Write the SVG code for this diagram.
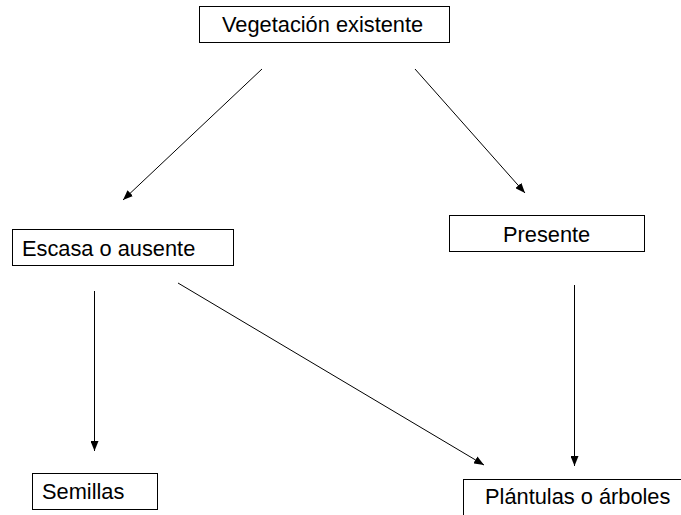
<svg xmlns="http://www.w3.org/2000/svg" width="681" height="515" viewBox="0 0 681 515">
<style>
.box{fill:#fff;stroke:#000;stroke-width:1}
.lbl{font-family:"Liberation Sans",Arial,sans-serif;font-size:21.8px;fill:#000}
.con{stroke:#000;stroke-width:1;fill:none;marker-end:url(#ah)}
</style>
<defs>
<marker id="ah" markerWidth="10" markerHeight="8" refX="10" refY="4" orient="auto" markerUnits="userSpaceOnUse">
<path d="M0,0 L10,4 L0,8 Z" fill="#000"/>
</marker>
</defs>
<rect width="681" height="515" fill="#fff"/>
<g id="connectors">
<line class="con" x1="262" y1="69" x2="123" y2="200"/>
<line class="con" x1="415" y1="69" x2="525" y2="193"/>
<line class="con" x1="94.5" y1="291" x2="94.5" y2="451"/>
<line class="con" x1="178" y1="283" x2="484" y2="465"/>
<line class="con" x1="574.5" y1="285" x2="574.5" y2="466"/>
</g>
<g id="vegetacion">
<rect class="box" x="199.5" y="6.5" width="250" height="36"/>
<text class="lbl" x="222" y="32">Vegetación existente</text>
</g>
<g id="escasa">
<rect class="box" x="12.5" y="229.5" width="221" height="36"/>
<text class="lbl" x="22" y="256">Escasa o ausente</text>
</g>
<g id="presente">
<rect class="box" x="449.5" y="215.5" width="195" height="36"/>
<text class="lbl" x="503" y="242">Presente</text>
</g>
<g id="semillas">
<rect class="box" x="32.5" y="473.5" width="125" height="36"/>
<text class="lbl" x="42" y="499">Semillas</text>
</g>
<g id="plantulas">
<rect class="box" x="463.5" y="479.5" width="230" height="50"/>
<text class="lbl" x="485" y="504">Plántulas o árboles</text>
</g>
</svg>
